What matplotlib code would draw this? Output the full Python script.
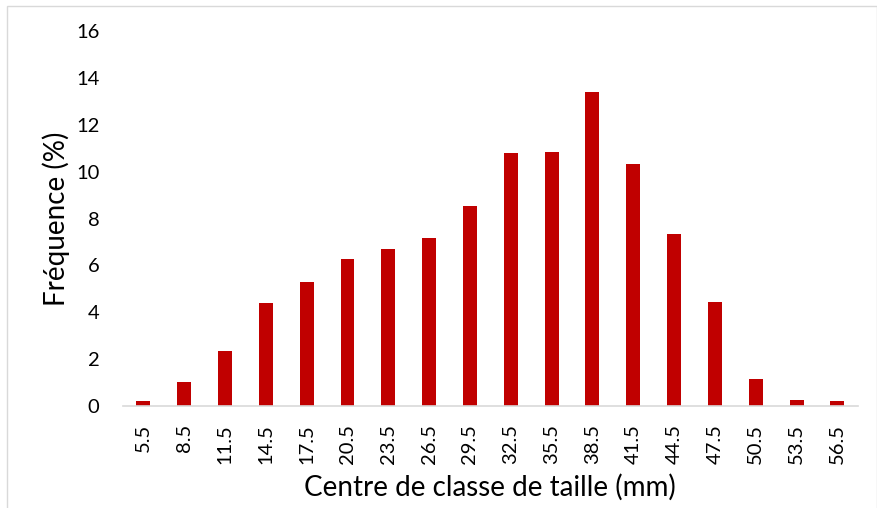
import matplotlib.pyplot as plt
from matplotlib.patches import Rectangle
import numpy as np

plt.rcParams['font.family'] = ['Lato', 'DejaVu Sans']

# centres de classe et fréquences (%)
classes = ['5.5', '8.5', '11.5', '14.5', '17.5', '20.5', '23.5', '26.5', '29.5',
           '32.5', '35.5', '38.5', '41.5', '44.5', '47.5', '50.5', '53.5', '56.5']
frequence = [0.22, 1.04, 2.35, 4.38, 5.28, 6.27, 6.71, 7.18, 8.52,
             10.78, 10.82, 13.4, 10.32, 7.32, 4.45, 1.15, 0.27, 0.2]

fig = plt.figure(figsize=(8.78, 5.08), dpi=100)
ax = fig.add_axes([0.140, 0.2008, 0.837, 0.738])

x = np.arange(len(classes))
ax.bar(x, frequence, width=0.34, color='#C00000')

ax.set_xlim(-0.5, len(classes) - 0.5)
ax.set_ylim(0, 16)
ax.set_yticks(np.arange(0, 17, 2))
ax.set_xticks(x)
ax.set_xticklabels(classes, rotation=90)
ax.tick_params(axis='both', length=0, labelsize=14.5, colors='black')
ax.tick_params(axis='y', pad=17)
ax.tick_params(axis='x', pad=13)

for s in ['top', 'right', 'left']:
    ax.spines[s].set_visible(False)
ax.spines['bottom'].set_color('#d9d9d9')
ax.spines['bottom'].set_linewidth(1.2)

ax.set_xlabel('Centre de classe de taille (mm)', fontsize=20, labelpad=7)
ax.set_ylabel('Fréquence (%)', fontsize=20, labelpad=4)

# cadre du graphique
fig.patches.append(Rectangle((7 / 878, -0.01), 870 / 878, 1 - 6 / 508 + 0.01,
                             transform=fig.transFigure, fill=False,
                             edgecolor='#d9d9d9', linewidth=1))

plt.savefig('out.png', dpi=100)
